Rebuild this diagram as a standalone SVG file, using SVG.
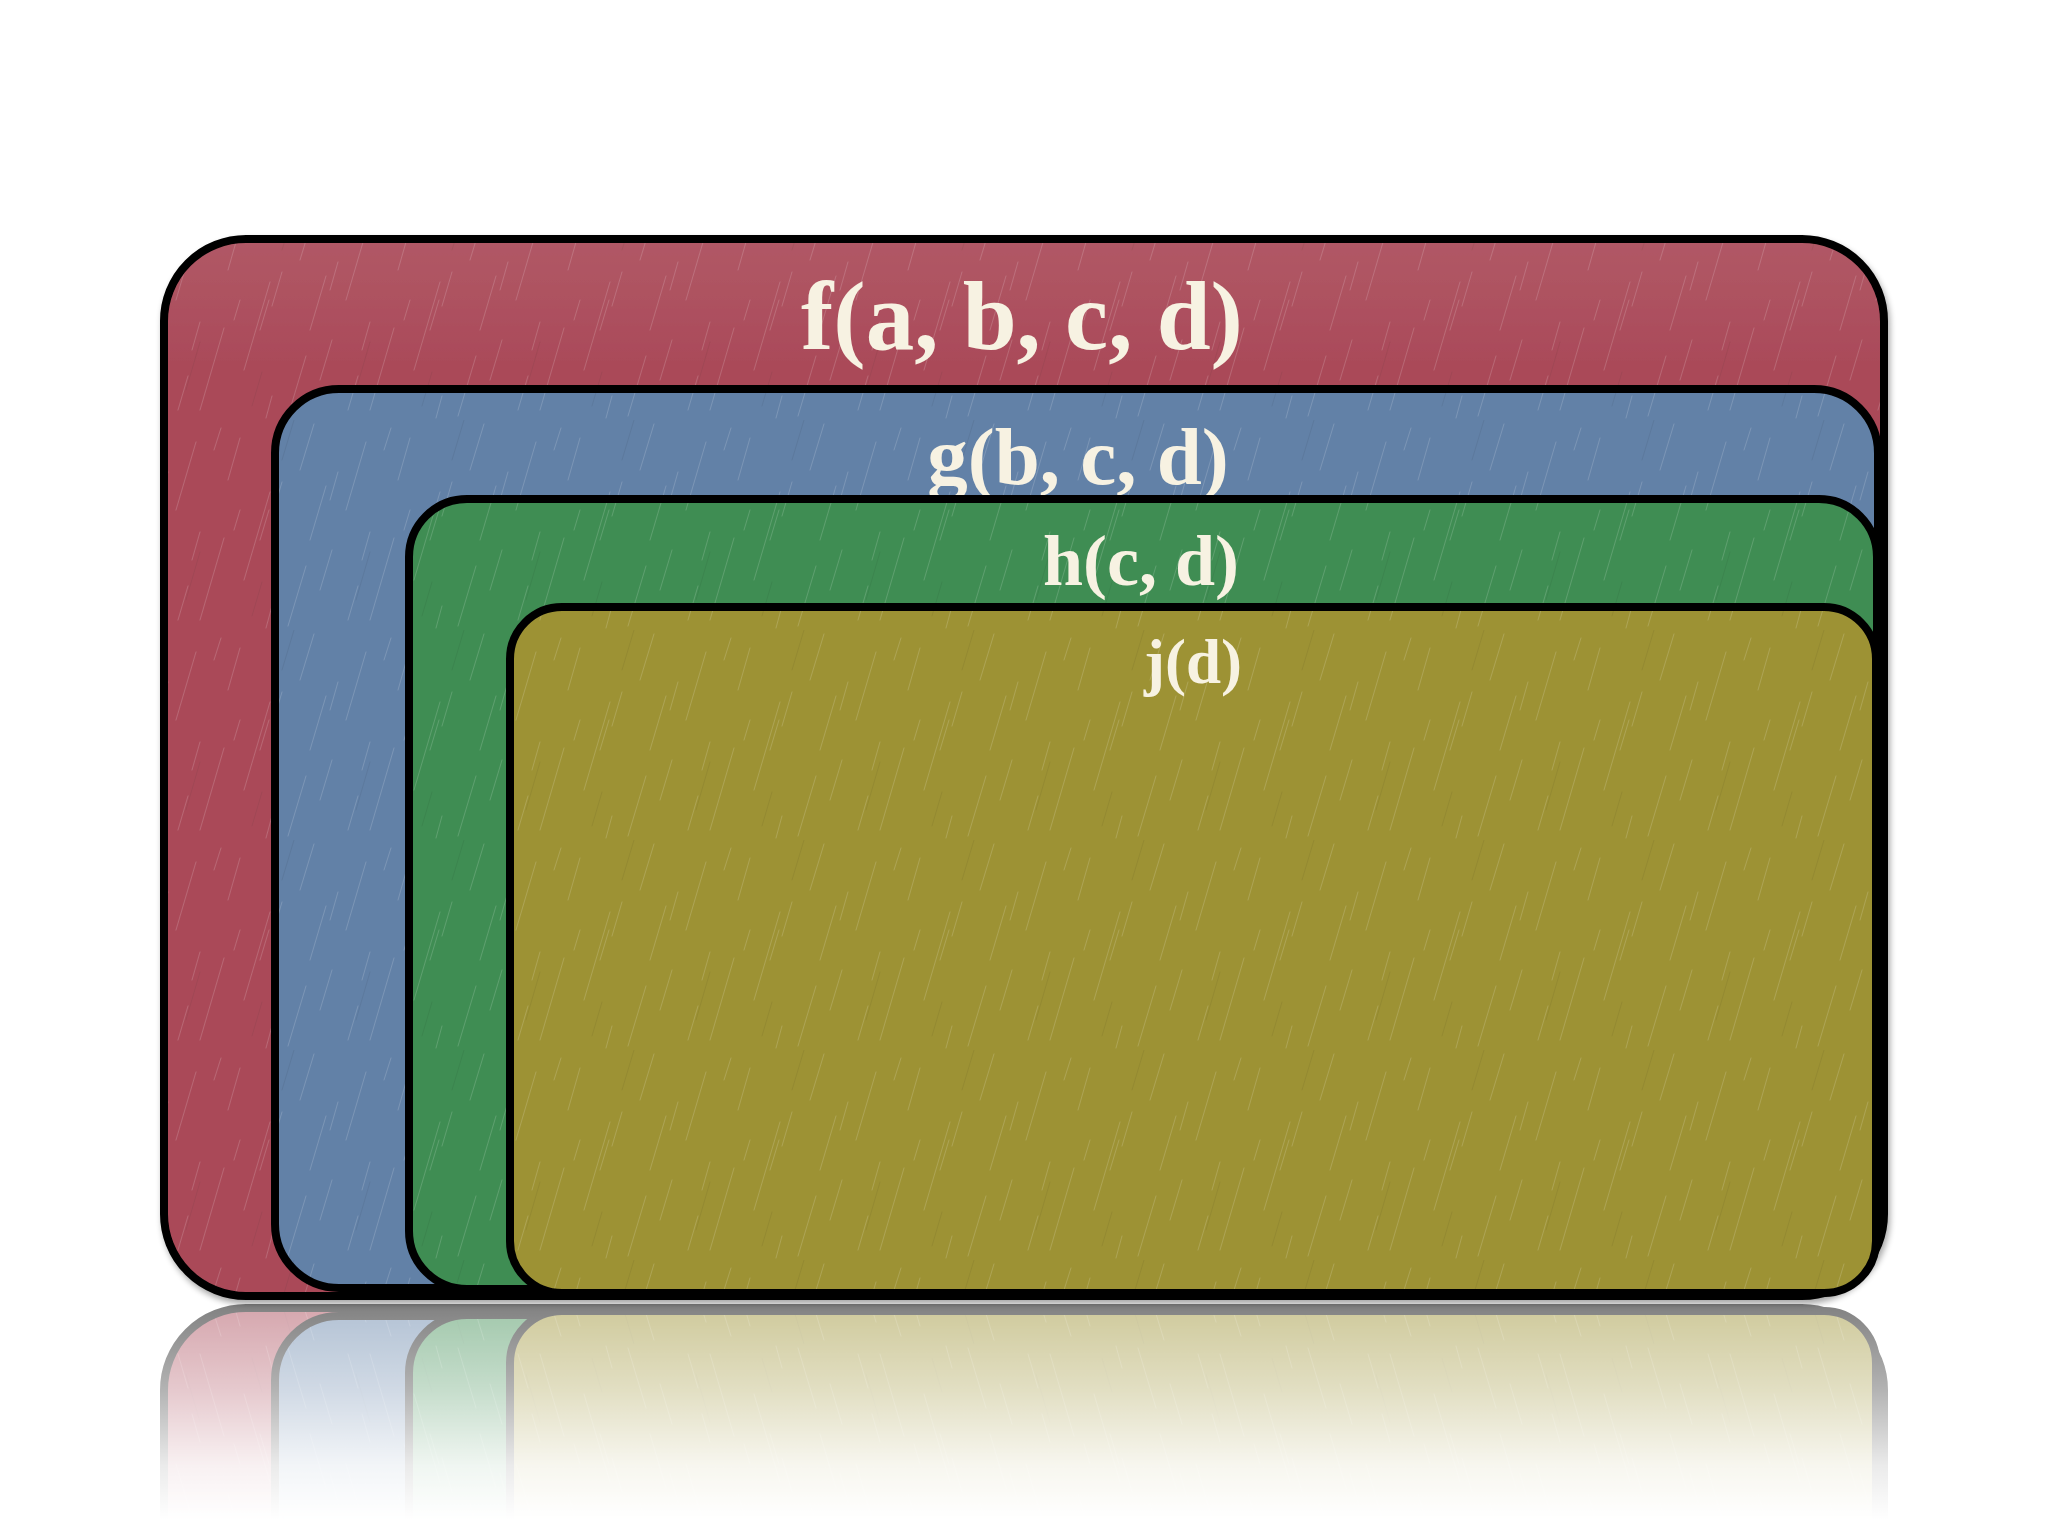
<svg xmlns="http://www.w3.org/2000/svg" xmlns:xlink="http://www.w3.org/1999/xlink" width="2048" height="1536" viewBox="0 0 2048 1536">
<style>
.box{stroke:none}
.tex{fill:url(#rain);stroke:#000;stroke-width:8}
.lbl{font-family:"Liberation Serif","Times New Roman",serif;font-weight:bold;fill:#F7F2E2;text-anchor:middle}
</style>
<defs>
<pattern id="rain" patternUnits="userSpaceOnUse" width="170" height="210">
<g stroke="#FFFFFF" stroke-opacity="0.16" stroke-width="1" stroke-linecap="round" fill="none">
<path d="M6 90 l20 -68"/>
<path d="M30 200 l24 -82"/>
<path d="M58 60 l12 -42"/>
<path d="M74 160 l26 -88"/>
<path d="M102 96 l10 -34"/>
<path d="M118 206 l18 -60"/>
<path d="M22 140 l8 -28"/>
<path d="M130 50 l14 -46"/>
<path d="M44 30 l7 -22"/>
<path d="M150 170 l12 -40"/>
<path d="M90 120 l9 -30"/>
<path d="M140 120 l16 -54"/>
<path d="M8 200 l10 -34"/>
<path d="M64 110 l6 -20"/>
<path d="M160 80 l8 -28"/>
<path d="M96 208 l6 -22"/>
</g>
<g stroke="#000000" stroke-opacity="0.06" stroke-width="1" stroke-linecap="round" fill="none">
<path d="M16 180 l14 -48"/>
<path d="M112 40 l12 -40"/>
<path d="M82 196 l10 -34"/>
</g>
</pattern>
<linearGradient id="gloss" x1="0" y1="0" x2="0" y2="1">
<stop offset="0" stop-color="#FFFFFF" stop-opacity="0.08"/>
<stop offset="0.12" stop-color="#FFFFFF" stop-opacity="0"/>
</linearGradient>
<filter id="shadow" x="-5%" y="-5%" width="110%" height="112%">
<feGaussianBlur in="SourceAlpha" stdDeviation="3"/>
<feOffset dx="2" dy="4" result="b"/>
<feComponentTransfer><feFuncA type="linear" slope="0.35"/></feComponentTransfer>
<feMerge><feMergeNode/><feMergeNode in="SourceGraphic"/></feMerge>
</filter>
<linearGradient id="fadeGrad" gradientUnits="userSpaceOnUse" x1="0" y1="1302" x2="0" y2="1520">
<stop offset="0" stop-color="#FFFFFF" stop-opacity="0.5"/>
<stop offset="0.4" stop-color="#FFFFFF" stop-opacity="0.3"/>
<stop offset="0.75" stop-color="#FFFFFF" stop-opacity="0.08"/>
<stop offset="1" stop-color="#FFFFFF" stop-opacity="0"/>
</linearGradient>
<mask id="fade" maskUnits="userSpaceOnUse" x="0" y="1300" width="2048" height="236">
<rect x="0" y="1300" width="2048" height="236" fill="url(#fadeGrad)"/>
</mask>
</defs>
<rect x="0" y="0" width="2048" height="1536" fill="#FFFFFF"/>

<g id="reflection" mask="url(#fade)">
<g transform="translate(0,2604) scale(1,-1)">
<use xlink:href="#shape-f"/>
<use xlink:href="#shape-g"/>
<use xlink:href="#shape-h"/>
<use xlink:href="#shape-j"/>
</g>
</g>

<g id="node-f" filter="url(#shadow)">
<g id="shape-f">
<rect class="box" x="164" y="239" width="1720" height="1057" rx="82" fill="#AA4A59"/>
<rect x="164" y="239" width="1720" height="1057" rx="82" fill="url(#gloss)"/>
<rect class="tex" x="164" y="239" width="1720" height="1057" rx="82"/>
</g>
<text class="lbl" x="1022" y="349" font-size="97">f(a, b, c, d)</text>
</g>

<g id="node-g">
<g id="shape-g">
<rect class="box" x="275" y="389" width="1603" height="899" rx="64" fill="#6281A7"/>
<rect class="tex" x="275" y="389" width="1603" height="899" rx="64"/>
</g>
<text class="lbl" x="1078" y="484" font-size="81">g(b, c, d)</text>
</g>

<g id="node-h">
<g id="shape-h">
<rect class="box" x="409" y="499" width="1468" height="790" rx="58" fill="#3F8D53"/>
<rect class="tex" x="409" y="499" width="1468" height="790" rx="58"/>
</g>
<text class="lbl" x="1141" y="585" font-size="72">h(c, d)</text>
</g>

<g id="node-j">
<g id="shape-j">
<rect class="box" x="510" y="607" width="1366" height="686" rx="52" fill="#9D9234"/>
<rect class="tex" x="510" y="607" width="1366" height="686" rx="52"/>
</g>
<text class="lbl" x="1193" y="683" font-size="63">j(d)</text>
</g>

<g id="connectors"></g>
</svg>
